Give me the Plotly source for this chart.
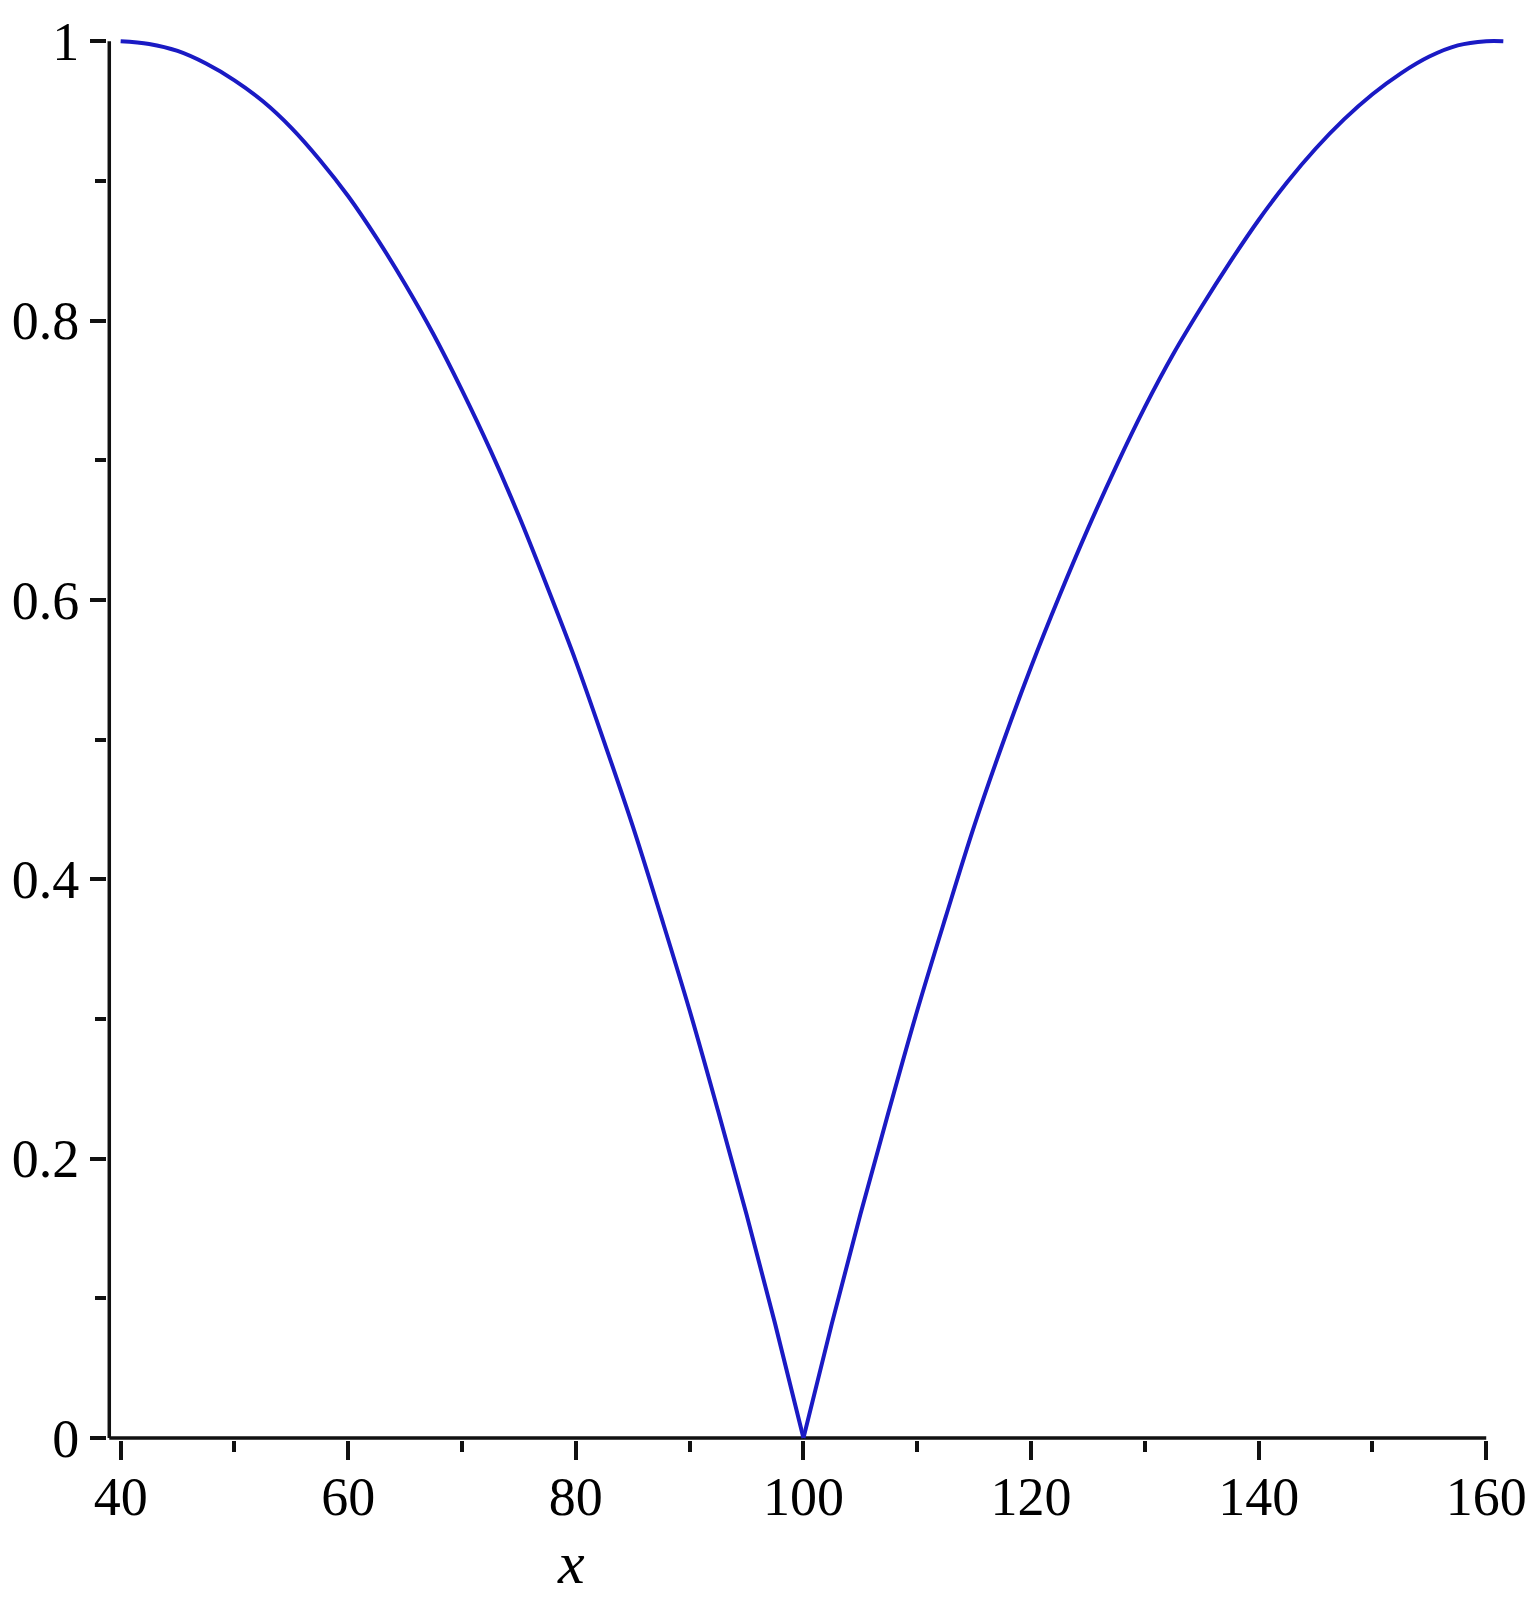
import plotly.graph_objects as go

# values
x_vals = [40, 42.5, 45, 47.5, 50, 52.5, 55, 57.5, 60, 62.5, 65, 67.5, 70, 72.5, 75, 77.5,
          80, 82.5, 85, 87.5, 90, 92.5, 95, 97.5, 100,
          102.5, 105, 107.5, 110, 112.5, 115, 117.5, 120, 122.5, 125, 127.5, 130, 132.5,
          135, 137.5, 140, 142.5, 145, 147.5, 150, 152.5, 155, 157.5, 160, 161.5]
y_vals = [1.000, 0.998, 0.993, 0.984, 0.972, 0.957, 0.938, 0.915, 0.889, 0.859, 0.826, 0.790,
          0.750, 0.707, 0.660, 0.609, 0.556, 0.498, 0.438, 0.373, 0.306, 0.234, 0.160, 0.082, 0.000,
          0.082, 0.160, 0.234, 0.306, 0.373, 0.438, 0.497, 0.552, 0.603, 0.651, 0.696, 0.738,
          0.776, 0.810, 0.842, 0.872, 0.899, 0.923, 0.944, 0.962, 0.977, 0.989, 0.997, 1.000, 1.000]

x_ticks = [40, 60, 80, 100, 120, 140, 160]
x_tick_labels = ["40", "60", "80", "100", "120", "140", "160"]
y_ticks = [0, 0.2, 0.4, 0.6, 0.8, 1.0]
y_tick_labels = ["0", "0.2", "0.4", "0.6", "0.8", "1"]
x_label = "<i>x</i>"

cusp = y_vals.index(min(y_vals))
line_color = "#1a1ac4"
font_family = "Liberation Serif"
axis_color = "#111111"

fig = go.Figure()
for xs, ys in ((x_vals[:cusp + 1], y_vals[:cusp + 1]), (x_vals[cusp:], y_vals[cusp:])):
    fig.add_trace(go.Scatter(x=xs, y=ys, mode="lines",
                             line=dict(color=line_color, width=4, shape="spline", smoothing=1),
                             showlegend=False, hoverinfo="skip"))

fig.update_xaxes(range=[38.8, 162], showgrid=False, zeroline=False, showline=False,
                 tickmode="array", tickvals=x_ticks, ticktext=x_tick_labels,
                 ticks="outside", ticklen=19, tickwidth=3.5, tickcolor=axis_color,
                 ticklabelstandoff=-10,
                 minor=dict(ticks="outside", ticklen=11, tickwidth=3.5, tickcolor=axis_color,
                            dtick=10, tick0=0),
                 tickfont=dict(family=font_family, size=54, color="black"))
fig.update_yaxes(range=[-0.0015, 1.003], showgrid=False, zeroline=False, showline=False,
                 tickmode="array", tickvals=y_ticks, ticktext=y_tick_labels,
                 ticks="outside", ticklen=16, tickwidth=3.5, tickcolor=axis_color,
                 minor=dict(ticks="outside", ticklen=11, tickwidth=3.5, tickcolor=axis_color,
                            dtick=0.1, tick0=0),
                 tickfont=dict(family=font_family, size=54, color="black"))

# axis lines (the x-axis line stops at 160 while the curve continues a little)
fig.add_shape(type="line", xref="x", yref="y", x0=39, x1=160, y0=0, y1=0,
              line=dict(color=axis_color, width=3.5), layer="below")
fig.add_shape(type="line", xref="x", yref="y", x0=39, x1=39, y0=0, y1=1,
              line=dict(color=axis_color, width=3.5), layer="below")

fig.add_annotation(text=x_label, xref="x", yref="paper", x=79.6, y=0, yanchor="middle",
                   yshift=-123, showarrow=False,
                   font=dict(family=font_family, size=60, color="black"))

fig.update_layout(width=1539, height=1605,
                  margin=dict(l=105, r=25, t=37, b=165),
                  paper_bgcolor="white", plot_bgcolor="white")

fig.write_html("out.html")
